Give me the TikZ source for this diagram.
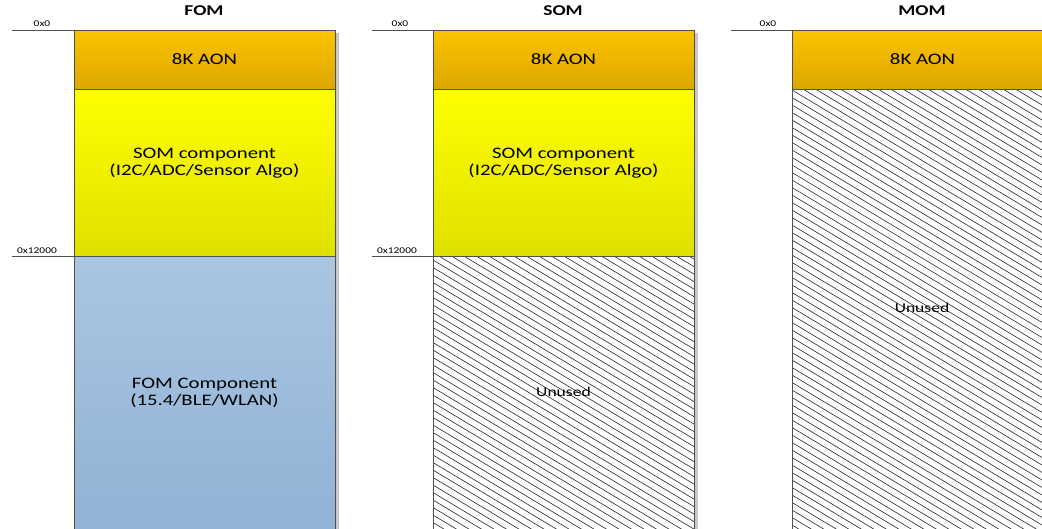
\documentclass[tikz,border=0pt]{standalone}
\usepackage{fontspec}
\setmainfont{Carlito}[FakeStretch=1.3]
\definecolor{edge}{HTML}{505050}
\definecolor{aonT}{HTML}{FBC300}
\definecolor{aonB}{HTML}{DDA700}
\definecolor{somT}{HTML}{FFFF00}
\definecolor{somB}{HTML}{E0E000}
\definecolor{fomT}{HTML}{AAC5E1}
\definecolor{fomB}{HTML}{90B2D5}
\begin{document}
\begin{tikzpicture}[x=1pt,y=-1pt,
  blk/.style={draw=edge,line width=0.8pt,anchor=north west,inner sep=0pt,outer sep=0pt,minimum width=261pt},
  aon/.style={blk,top color=aonT,bottom color=aonB,minimum height=59pt},
  som/.style={blk,top color=somT,bottom color=somB,minimum height=167pt},
  fom/.style={blk,top color=fomT,bottom color=fomB,minimum height=280pt},
  unused/.style={blk},
  boxtxt/.style={font=\fontsize{16}{17.5}\selectfont,align=center,text=black},
  unusedtxt/.style={font=\fontsize{13.5}{15}\selectfont,text=black},
  title/.style={font=\fontsize{15}{17}\selectfont\bfseries},
  addr/.style={font=\fontsize{8.8}{10}\selectfont,anchor=base},
  addrline/.style={draw=edge,line width=0.8pt},
  hatch/.style={draw=black!85,line width=0.6pt},
  shadow/.style={fill=black!22}
]
\useasboundingbox (0,0) rectangle (1042,528);

% shadows
\fill[shadow] (335,33) rectangle (338.5,535);
\fill[shadow] (694,33) rectangle (697.5,535);

% hatch areas
\begin{scope}
  \clip (433,256) rectangle (694,536);
  \foreach \c in {80,87.5,...,545} \draw[hatch] (433,\c) -- ++(261,156.6);
\end{scope}
\begin{scope}
  \clip (792,89) rectangle (1053,536);
  \foreach \c in {-75,-67.5,...,545} \draw[hatch] (792,\c) -- ++(261,156.6);
\end{scope}

% FOM column
\node[title] (tF) at (204,11) {FOM};
\node[aon] (aonF) at (74,30) {};
\node[som] (somF) at (74,89) {};
\node[fom] (fomF) at (74,256) {};
\node[boxtxt] (aonFt) at (204.5,59.5) {8K AON};
\node[boxtxt] (somFt) at (204.5,163) {SOM component\\(I2C/ADC/Sensor Algo)};
\node[boxtxt] (fomFt) at (204.5,393) {FOM Component\\(15.4/BLE/WLAN)};
\coordinate (aF0) at (12,30);
\coordinate (aF1) at (12,256);
\draw[addrline] (aF0) -- (aonF.north west);
\draw[addrline] (aF1) -- (fomF.north west);
\node[addr] (lF0) at (42,26) {0x0};
\node[addr] (lF1) at (37,253) {0x12000};

% SOM column
\node[title] (tS) at (563,11) {SOM};
\node[aon] (aonS) at (433,30) {};
\node[som] (somS) at (433,89) {};
\node[unused,minimum height=280pt] (unS) at (433,256) {};
\node[boxtxt] (aonSt) at (563.5,59.5) {8K AON};
\node[boxtxt] (somSt) at (563.5,163) {SOM component\\(I2C/ADC/Sensor Algo)};
\node[unusedtxt] (unSt) at (563.5,392) {Unused};
\coordinate (aS0) at (372,30);
\coordinate (aS1) at (372,256);
\draw[addrline] (aS0) -- (aonS.north west);
\draw[addrline] (aS1) -- (unS.north west);
\node[addr] (lS0) at (400,26) {0x0};
\node[addr] (lS1) at (397,253) {0x12000};

% MOM column
\node[title] (tM) at (922,11) {MOM};
\node[aon] (aonM) at (792,30) {};
\node[blk,minimum height=447pt] (unM) at (792,89) {};
\node[boxtxt] (aonMt) at (922.5,59.5) {8K AON};
\node[unusedtxt] (unMt) at (922,308) {Unused};
\coordinate (aM0) at (731,30);
\draw[addrline] (aM0) -- (aonM.north west);
\node[addr] (lM0) at (768,26) {0x0};
\end{tikzpicture}
\end{document}
